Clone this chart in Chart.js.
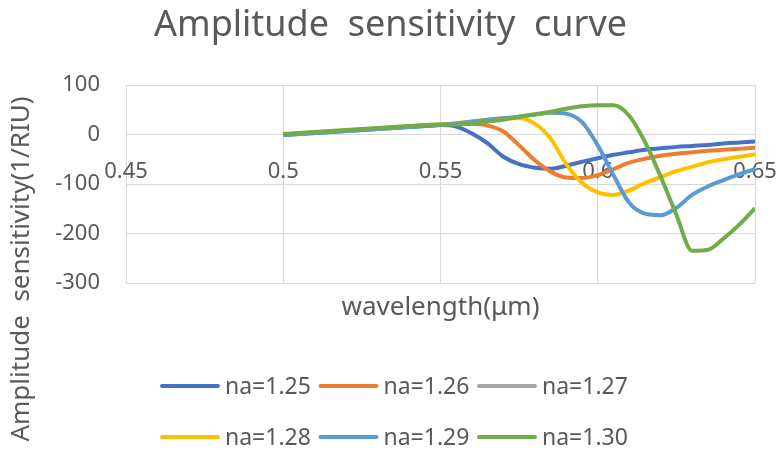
<!DOCTYPE html>
<html lang="en">
<head>
    <meta charset="UTF-8">
    <title>Amplitude sensitivity curve</title>
    <script src="https://cdn.jsdelivr.net/npm/chart.js"></script>
    <style>
        html, body { margin: 0; padding: 0; background: #fff; }
        canvas { display: block; }
    </style>
</head>
<body>
<canvas id="sensChart" width="781" height="450"></canvas>

<script>
  // wavelength samples (um)
  const wavelength = [0.500, 0.505, 0.510, 0.515, 0.520, 0.525, 0.530, 0.535, 0.540, 0.545,
                      0.550, 0.555, 0.560, 0.565, 0.570, 0.575, 0.580, 0.585, 0.590, 0.595,
                      0.600, 0.605, 0.610, 0.615, 0.620, 0.625, 0.630, 0.635, 0.640, 0.645, 0.650];

  // amplitude sensitivity (1/RIU) for each analyte index
  const na125 = [-1, 1, 3, 5, 7, 9, 11, 13, 15, 17, 19, 16, 2, -18, -45, -60, -67, -69, -63, -55,
                 -48, -41, -36, -31, -28, -25, -23, -21, -18, -16, -14];
  const na126 = [0, 2, 4, 6, 8, 10, 12, 14, 16, 18, 20, 21, 21, 18, 6, -22, -52, -75, -87, -88,
                 -82, -70, -57, -49, -43, -39, -36, -33, -31, -29, -27];
  const na127 = [];
  const na128 = [0, 2, 4, 6, 8, 10, 12, 14, 16, 18, 20, 23, 27, 30, 33, 33, 22, -8, -60, -98,
                 -117, -122, -113, -98, -86, -74, -65, -56, -50, -45, -40];
  const na129 = [-1, 1, 3, 5, 7, 9, 11, 13, 15, 17, 19, 22, 26, 30, 33, 36, 40, 44, 42, 25,
                 -22, -82, -138, -160, -163, -148, -122, -105, -92, -80, -70];
  const na130 = [1, 3, 5, 7, 9, 11, 13, 15, 17, 19, 20, 20, 22, 26, 30, 36, 41, 46, 52, 57,
                 59, 59, 38, -15, -85, -162, -235, -233, -210, -182, -149];

  const seriesLabels = ['na=1.25', 'na=1.26', 'na=1.27', 'na=1.28', 'na=1.29', 'na=1.30'];
  const seriesValues = [na125, na126, na127, na128, na129, na130];
  const seriesColors = ['#4472C4', '#ED7D31', '#A5A5A5', '#FFC000', '#5B9BD5', '#70AD47'];

  const xTicks = [0.45, 0.5, 0.55, 0.6, 0.65];
  const yTicks = [-300, -200, -100, 0, 100];

  const FONT = '"Noto Sans", "Open Sans", sans-serif';
  const TEXT = '#595959';
  const GRID = '#D9D9D9';

  // legend: three entries per row under the plot
  const rowLegend = {
    id: 'rowLegend',
    afterDraw(chart) {
      const ctx = chart.ctx;
      ctx.save();
      ctx.font = '23px ' + FONT;
      ctx.textBaseline = 'middle';
      ctx.textAlign = 'left';
      chart.data.datasets.forEach((ds, i) => {
        const x = 160 + (i % 3) * 158.5;
        const y = 386 + Math.floor(i / 3) * 51;
        ctx.strokeStyle = ds.borderColor;
        ctx.lineWidth = 4;
        ctx.lineCap = 'round';
        ctx.beginPath();
        ctx.moveTo(x + 2, y);
        ctx.lineTo(x + 58, y);
        ctx.stroke();
        ctx.fillStyle = TEXT;
        ctx.fillText(ds.label, x + 65, y + 1);
      });
      ctx.restore();
    }
  };

  // vertical axis title, centred on the whole figure height
  const yTitle = {
    id: 'yTitle',
    afterDraw(chart) {
      const ctx = chart.ctx;
      ctx.save();
      ctx.translate(22, 269);
      ctx.rotate(-Math.PI / 2);
      ctx.font = '26px ' + FONT;
      ctx.fillStyle = TEXT;
      ctx.textAlign = 'center';
      ctx.textBaseline = 'middle';
      ctx.fillText('Amplitude  sensitivity(1/RIU)', 0, 0);
      ctx.restore();
    }
  };

  const datasets = seriesLabels.map((label, i) => ({
    label: label,
    data: seriesValues[i].map((v, k) => ({ x: wavelength[k], y: v })),
    borderColor: seriesColors[i],
    backgroundColor: seriesColors[i],
    borderWidth: 4,
    pointRadius: 0,
    cubicInterpolationMode: 'monotone',
    fill: false,
    order: seriesLabels.length - i
  }));

  const ctx = document.getElementById('sensChart').getContext('2d');
  new Chart(ctx, {
    type: 'line',
    data: { datasets: datasets },
    options: {
      responsive: false,
      animation: false,
      layout: { padding: { left: 13, right: 13, top: 0, bottom: 0 } },
      plugins: {
        legend: { display: false },
        tooltip: { enabled: false },
        title: {
          display: true,
          text: 'Amplitude  sensitivity  curve',
          color: TEXT,
          font: { family: FONT, size: 36, weight: 'normal', lineHeight: 1.2 },
          padding: { top: 4, bottom: 37.8 }
        }
      },
      scales: {
        x: {
          type: 'linear',
          position: { y: 0 },
          min: 0.45,
          max: 0.65,
          afterBuildTicks: axis => { axis.ticks = xTicks.map(v => ({ value: v })); },
          ticks: {
            color: TEXT,
            font: { family: FONT, size: 22 },
            padding: 24,
            maxRotation: 0,
            callback: v => String(+v.toFixed(2))
          },
          grid: { color: GRID, lineWidth: 1, drawTicks: false },
          border: { display: false },
          afterFit: axis => { axis.paddingLeft = 0; axis.paddingRight = 26; }
        },
        x2: {
          type: 'linear',
          position: 'bottom',
          min: 0.45,
          max: 0.65,
          ticks: { display: false },
          grid: { display: false },
          border: { display: false },
          title: {
            display: true,
            text: 'wavelength(\u03bcm)',
            color: TEXT,
            font: { family: FONT, size: 26 },
            padding: { top: 0, bottom: 126.4 }
          },
          afterFit: axis => { axis.height = 167; axis.paddingLeft = 0; axis.paddingRight = 26; }
        },
        y: {
          type: 'linear',
          min: -300,
          max: 100,
          afterBuildTicks: axis => { axis.ticks = yTicks.map(v => ({ value: v })); },
          ticks: {
            color: TEXT,
            font: { family: FONT, size: 22 },
            padding: 26
          },
          grid: { color: GRID, lineWidth: 1, drawTicks: false },
          border: { display: false },
          afterFit: axis => { axis.width = 113; }
        }
      }
    },
    plugins: [rowLegend, yTitle]
  });
</script>
</body>
</html>
